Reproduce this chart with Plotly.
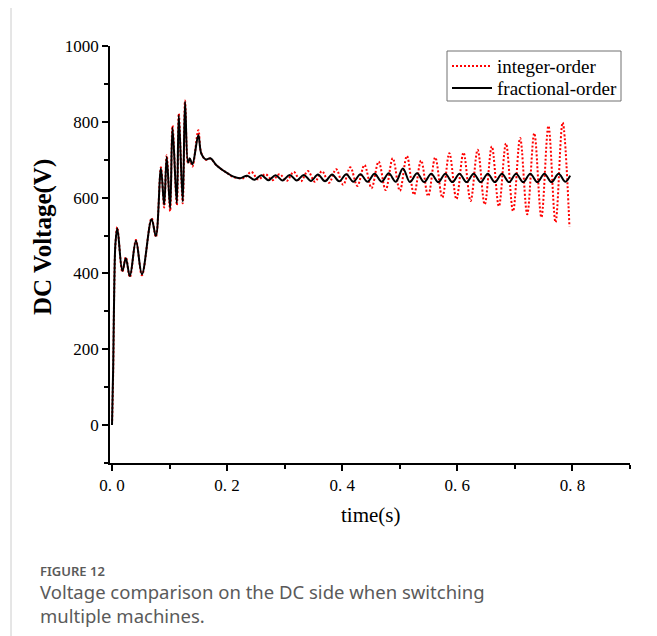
import plotly.graph_objects as go

# ---------------- data ----------------
int_t = [0, 0.002, 0.004, 0.006, 0.0092, 0.018, 0.024, 0.031, 0.0416, 0.052,
         0.0687, 0.0762, 0.085, 0.0906, 0.095, 0.101, 0.1051, 0.1126, 0.116, 0.1229,
         0.1269, 0.132, 0.135, 0.1397, 0.150, 0.155, 0.163, 0.171, 0.181, 0.190,
         0.201, 0.210,
         0.2296, 0.2419, 0.2542, 0.2665, 0.2788, 0.2911, 0.3034, 0.3157, 0.3280, 0.3403,
         0.3526, 0.3648, 0.3771, 0.3894, 0.4017, 0.4140, 0.4263, 0.4386, 0.4509, 0.4632,
         0.4755, 0.4878, 0.5001, 0.5124, 0.5247, 0.5370, 0.5493, 0.5616, 0.5739, 0.5861,
         0.5984, 0.6107, 0.6230, 0.6353, 0.6476, 0.6599, 0.6722, 0.6845, 0.6968, 0.7091,
         0.7214, 0.7337, 0.7460, 0.7583, 0.7706, 0.7829, 0.7948]
int_v = [0, 140, 370, 478, 522, 404, 443, 390, 488, 395,
         546, 496, 680, 574, 712, 564, 790, 580, 822, 585,
         856, 690, 702, 682, 778, 718, 700, 703, 686, 675,
         664, 655,
         652, 668, 648, 662, 646, 662, 644, 668, 643, 670,
         642, 670, 639, 675, 634, 680, 631, 686, 625, 695,
         620, 704, 618, 710, 608, 698, 604, 706, 600, 717,
         596, 719, 591, 726, 582, 735, 577, 743, 564, 757,
         556, 770, 548, 789, 535, 798, 523]

frac_t = [0, 0.002, 0.004, 0.006, 0.0092, 0.018, 0.024, 0.031, 0.0416, 0.052,
          0.0687, 0.0762, 0.085, 0.0906, 0.095, 0.101, 0.1051, 0.1126, 0.116, 0.1229,
          0.1269, 0.132, 0.135, 0.1397, 0.150, 0.155, 0.163, 0.171, 0.181, 0.190,
          0.201, 0.210,
          0.2226, 0.2349, 0.2472, 0.2595, 0.2718, 0.2841, 0.2964, 0.3087, 0.3210, 0.3333,
          0.3456, 0.3578, 0.3701, 0.3824, 0.3947, 0.4070, 0.4193, 0.4316, 0.4439, 0.4562,
          0.4685, 0.4808, 0.4931, 0.5054, 0.5177, 0.5300, 0.5423, 0.5546, 0.5669, 0.5791,
          0.5914, 0.6037, 0.6160, 0.6283, 0.6406, 0.6529, 0.6652, 0.6775, 0.6898, 0.7021,
          0.7144, 0.7267, 0.7390, 0.7513, 0.7636, 0.7759, 0.7878, 0.796]
frac_v = [0, 150, 375, 480, 519, 407, 440, 393, 486, 398,
          543, 499, 677, 581, 708, 572, 785, 585, 818, 589,
          853, 692, 704, 688, 765, 717, 701, 704, 686, 675,
          664, 656,
          651, 658, 647, 659, 646, 659, 645, 660, 645, 660,
          644, 661, 643, 661, 643, 662, 642, 662, 642, 663,
          642, 664, 642, 677, 641, 664, 641, 663, 641, 663,
          641, 663, 641, 663, 641, 663, 641, 663, 641, 663,
          641, 663, 641, 663, 641, 663, 642, 658]

x_tickvals = [0, 0.2, 0.4, 0.6, 0.8]
x_ticktext = ["0. 0", "0. 2", "0. 4", "0. 6", "0. 8"]
y_tickvals = [0, 200, 400, 600, 800, 1000]

series_names = ["integer-order", "fractional-order"]
series_colors = ["#ff0000", "#000000"]
series_dash = ["2px,2px", "solid"]

# ---------------- figure ----------------
SERIF = "Liberation Serif"
fig = go.Figure()
fig.add_trace(go.Scatter(x=int_t, y=int_v, mode="lines", name=series_names[0],
                         line=dict(color=series_colors[0], width=2, dash=series_dash[0],
                                   shape="spline", smoothing=1.0)))
fig.add_trace(go.Scatter(x=frac_t, y=frac_v, mode="lines", name=series_names[1],
                         line=dict(color=series_colors[1], width=2, dash=series_dash[1],
                                   shape="spline", smoothing=1.0)))

axis_common = dict(showgrid=False, zeroline=False, showline=True, linecolor="black", linewidth=1.5,
                   ticks="outside", ticklen=6, tickwidth=1.5, tickcolor="black",
                   tickfont=dict(family=SERIF, size=17, color="black"))

fig.update_xaxes(range=[-0.0035, 0.9], tickvals=x_tickvals, ticktext=x_ticktext,
                 minor=dict(ticks="outside", ticklen=4, tickwidth=1.5, tickcolor="black",
                            tickvals=[0.1, 0.3, 0.5, 0.7, 0.9]),
                 **axis_common)
fig.update_yaxes(range=[-100, 1000], tickvals=y_tickvals,
                 minor=dict(ticks="outside", ticklen=4, tickwidth=1.5, tickcolor="black",
                            tickvals=[-100, 100, 300, 500, 700, 900]),
                 **axis_common)

# page body adds an 8px offset, so the figure is 8px smaller and margins shifted
fig.update_layout(
    width=649, height=628,
    margin=dict(l=102, r=27, t=38, b=173),
    paper_bgcolor="white", plot_bgcolor="white",
    showlegend=False,
)

# helpers: convert reference pixel coordinates into paper coordinates of the plot area
def px(xp):
    return (xp - 110) / 520

def py(yp):
    return (463 - yp) / 417

# legend box (compact, like the reference)
fig.add_shape(type="rect", xref="paper", yref="paper", x0=px(447), x1=px(621), y0=py(101), y1=py(51),
              line=dict(color="#707070", width=1), fillcolor="white")
for i, (name, col, dash) in enumerate(zip(series_names, series_colors, series_dash)):
    yc = 66 + 22 * i
    fig.add_shape(type="line", xref="paper", yref="paper", x0=px(452), x1=px(492), y0=py(yc), y1=py(yc),
                  line=dict(color=col, width=2, dash=dash))
    fig.add_annotation(text=name, xref="paper", yref="paper", x=px(495), y=py(yc),
                       xanchor="left", yanchor="middle", showarrow=False,
                       font=dict(family=SERIF, size=19, color="black"))

# axis titles
fig.add_annotation(text="time(s)", xref="paper", yref="paper", x=0.5, y=py(515),
                   xanchor="center", yanchor="middle", showarrow=False,
                   font=dict(family=SERIF, size=21, color="black"))
fig.add_annotation(text="DC Voltage(V)", xref="paper", yref="paper", x=px(43), y=py(237),
                   xanchor="center", yanchor="middle", showarrow=False, textangle=-90,
                   font=dict(family=SERIF, size=25, color="black", weight="bold"))

# caption
CAP = "Noto Sans"
CAPCOL = "#5a5a5a"
fig.add_annotation(text="FIGURE 12", xref="paper", yref="paper", x=px(38), y=py(571),
                   xanchor="left", yanchor="middle", showarrow=False,
                   font=dict(family=CAP, size=13, color=CAPCOL, weight=600))
fig.add_annotation(text="Voltage comparison on the DC side when switching<br>multiple machines.",
                   xref="paper", yref="paper", x=px(38), y=py(603),
                   xanchor="left", yanchor="middle", align="left", showarrow=False,
                   font=dict(family=CAP, size=18.5, color=CAPCOL))

# outer frame
fig.add_shape(type="rect", xref="paper", yref="paper",
              x0=px(11), x1=px(653), y0=py(650), y1=py(7),
              line=dict(color="#cccccc", width=1), fillcolor="rgba(0,0,0,0)", layer="below")

fig.write_html("out.html")
